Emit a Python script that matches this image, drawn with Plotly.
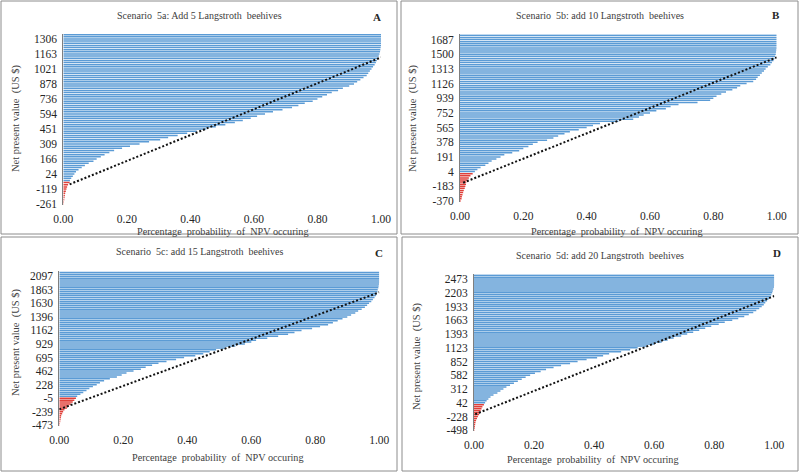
import plotly.graph_objects as go

W, H = 800, 473

# ---------------- data ----------------
titles = ["Scenario\u00a0 5a: Add 5 Langstroth\u00a0 beehives",
          "Scenario\u00a0 5b: add 10 Langstroth\u00a0 beehives",
          "Scenario\u00a0 5c: add 15 Langstroth\u00a0 beehives",
          "Scenario\u00a0 5d: add 20 Langstroth\u00a0 beehives"]
letters = ["A", "B", "C", "D"]

labels_a = [-261, -119, 24, 166, 309, 451, 594, 736, 878, 1021, 1163, 1306]
labels_b = [-370, -183, 4, 191, 378, 565, 752, 939, 1126, 1313, 1500, 1687]
labels_c = [-473, -239, -5, 228, 462, 695, 929, 1162, 1396, 1630, 1863, 2097]
labels_d = [-498, -228, 42, 312, 582, 852, 1123, 1393, 1663, 1933, 2203, 2473]

prob_a = [0.001, 0.002, 0.003, 0.004, 0.005, 0.006, 0.008, 0.010, 0.012, 0.015, 0.020,
          0.021, 0.025, 0.030, 0.035, 0.040, 0.048, 0.058, 0.068, 0.080, 0.095,
          0.105, 0.118, 0.130, 0.145, 0.160, 0.185, 0.210, 0.240, 0.270, 0.305,
          0.330, 0.360, 0.390, 0.420, 0.450, 0.480, 0.510, 0.540, 0.565, 0.590,
          0.610, 0.635, 0.660, 0.690, 0.720, 0.740, 0.760, 0.785, 0.800, 0.815,
          0.830, 0.845, 0.865, 0.880, 0.900, 0.915, 0.925, 0.935, 0.945, 0.955,
          0.960, 0.965, 0.970, 0.975, 0.980, 0.984, 0.987, 0.990, 0.993, 0.995,
          0.997, 0.998, 0.999, 1.0, 1.0, 1.0, 1.0, 1.0, 1.0]
prob_b = [0.002, 0.005, 0.006, 0.008, 0.010, 0.012, 0.015, 0.017, 0.019, 0.020,
          0.024, 0.028, 0.033, 0.040, 0.047, 0.055, 0.065, 0.080, 0.090, 0.100,
          0.115, 0.128, 0.140, 0.165, 0.187, 0.200, 0.216, 0.230, 0.245, 0.275,
          0.295, 0.310, 0.330, 0.347, 0.375, 0.400, 0.420, 0.442, 0.500, 0.547,
          0.565, 0.580, 0.600, 0.620, 0.650, 0.665, 0.690, 0.750, 0.790, 0.800,
          0.810, 0.825, 0.840, 0.860, 0.875, 0.885, 0.905, 0.926, 0.935, 0.940,
          0.947, 0.953, 0.960, 0.965, 0.972, 0.980, 0.985, 0.990, 0.993, 0.995,
          0.997, 0.998, 0.999, 1.0, 1.0, 1.0, 1.0, 1.0, 1.0, 1.0]
prob_c = [0.001, 0.002, 0.003, 0.004, 0.005, 0.006, 0.009, 0.012, 0.016, 0.024,
          0.030, 0.036, 0.042, 0.047, 0.052, 0.056, 0.066, 0.075, 0.085, 0.094,
          0.105, 0.117, 0.127, 0.140, 0.158, 0.180, 0.195, 0.210, 0.232, 0.255,
          0.270, 0.290, 0.310, 0.335, 0.365, 0.390, 0.425, 0.450, 0.470, 0.490,
          0.520, 0.550, 0.580, 0.600, 0.615, 0.650, 0.684, 0.715, 0.735, 0.757,
          0.790, 0.815, 0.840, 0.855, 0.870, 0.885, 0.900, 0.912, 0.925, 0.934,
          0.945, 0.955, 0.962, 0.968, 0.975, 0.980, 0.985, 0.990, 0.992, 0.994,
          0.995, 0.997, 0.998, 0.999, 1.0, 1.0, 1.0, 1.0, 1.0, 1.0]
prob_d = [0.001, 0.002, 0.003, 0.004, 0.005, 0.007, 0.010, 0.013, 0.017, 0.020,
          0.022, 0.025, 0.028, 0.033, 0.037, 0.042, 0.048, 0.055, 0.065, 0.078,
          0.088, 0.098, 0.108, 0.120, 0.133, 0.146, 0.159, 0.172, 0.187, 0.203,
          0.222, 0.240, 0.265, 0.290, 0.320, 0.345, 0.375, 0.410, 0.430, 0.450,
          0.490, 0.520, 0.545, 0.575, 0.600, 0.625, 0.645, 0.665, 0.690, 0.710,
          0.730, 0.750, 0.770, 0.790, 0.815, 0.835, 0.860, 0.880, 0.900, 0.915,
          0.930, 0.940, 0.950, 0.958, 0.965, 0.970, 0.976, 0.982, 0.988, 0.990,
          0.993, 0.995, 0.997, 0.999, 1.0, 1.0, 1.0, 1.0, 1.0, 1.0]

# number of (red) negative-NPV bars at the bottom of each panel
neg_counts = [11, 14, 15, 14]

# trend line end points (probability, bin index)
trend_a = ([0.02, 1.0], [9.2, 68.4])
trend_b = ([0.01, 1.0], [8.7, 68.5])
trend_c = ([0.0, 1.0], [8.3, 68.7])
trend_d = ([0.004, 1.0], [8.2, 68.4])

x_ticks = [0.0, 0.2, 0.4, 0.6, 0.8, 1.0]
label_step = 7

# ---------------- layout (pixel boxes) ----------------
panels = [
    dict(prob=prob_a, labels=labels_a, trend=trend_a,
         plot=(63.3, 381.0, 33.6, 205.1), border=(1, 397, 1, 234),
         title=(199, 15), letter=(377, 17), ytitle=(16, 118), xtitle=(223, 231)),
    dict(prob=prob_b, labels=labels_b, trend=trend_b,
         plot=(460.0, 776.7, 34.3, 202.0), border=(401, 798, 1, 234),
         title=(600, 15), letter=(776, 15), ytitle=(413, 118), xtitle=(617, 231)),
    dict(prob=prob_c, labels=labels_c, trend=trend_c,
         plot=(59.3, 379.3, 271.4, 426.3), border=(1, 397, 237, 471),
         title=(200, 251), letter=(379, 253), ytitle=(16, 342), xtitle=(218, 457)),
    dict(prob=prob_d, labels=labels_d, trend=trend_d,
         plot=(474.0, 774.3, 274.2, 431.3), border=(402, 798, 237, 471),
         title=(600, 255), letter=(777, 253), ytitle=(417, 356), xtitle=(593, 459)),
]

FONT = "Liberation Serif"
BLUE = "#5B9BD5"
RED = "#E0403A"
BAR_W = 1.5

fig = go.Figure()
shapes, annots = [], []
layout = dict(width=W, height=H, autosize=False, margin=dict(l=0, r=0, t=0, b=0, pad=0),
              paper_bgcolor="white", plot_bgcolor="white", showlegend=False,
              template="none")


def px(x):
    return x / W


def py(y):
    return 1 - y / H


def bar_segments(values, indices):
    xs, ys = [], []
    for i in indices:
        xs += [0, values[i], None]
        ys += [i, i, None]
    return xs, ys


for k, p in enumerate(panels):
    n = k + 1
    xa = "x" if n == 1 else f"x{n}"
    ya = "y" if n == 1 else f"y{n}"
    prob = p["prob"]
    neg = list(range(neg_counts[k]))
    pos = list(range(neg_counts[k], len(prob)))
    for ids, col in ((pos, BLUE), (neg, RED)):
        sx, sy = bar_segments(prob, ids)
        fig.add_trace(go.Scatter(x=sx, y=sy, mode="lines", line=dict(color=col, width=BAR_W),
                                 xaxis=xa, yaxis=ya, hoverinfo="skip", connectgaps=False))
    tx, ty = p["trend"]
    fig.add_trace(go.Scatter(x=tx, y=ty, mode="lines", line=dict(color="#111111", width=2, dash="2px,2px"),
                             xaxis=xa, yaxis=ya, hoverinfo="skip"))
    x0, x1, y0, y1 = p["plot"]
    xkey = "xaxis" if n == 1 else f"xaxis{n}"
    ykey = "yaxis" if n == 1 else f"yaxis{n}"
    layout[xkey] = dict(domain=[px(x0), px(x1)], range=[0, 1.0], anchor=ya, automargin=False,
                        tickvals=x_ticks, ticktext=[f"{v:.2f}" for v in x_ticks],
                        showgrid=False, zeroline=False, showline=False, ticks="", ticklen=0,
                        tickfont=dict(family=FONT, size=11.5, color="#262626"),
                        ticklabelstandoff=5, fixedrange=True)
    tick_idx = [i * label_step for i in range(len(p["labels"]))]
    layout[ykey] = dict(domain=[py(y1), py(y0)], range=[-0.5, len(prob) - 0.5], anchor=xa,
                        automargin=False,
                        tickvals=tick_idx, ticktext=[str(v) for v in p["labels"]],
                        showgrid=False, zeroline=False, showline=True, linecolor="#7f7f7f",
                        linewidth=1, ticks="", ticklen=0,
                        tickfont=dict(family=FONT, size=11.5, color="#262626"),
                        ticklabelstandoff=3, fixedrange=True)
    bx0, bx1, by0, by1 = p["border"]
    shapes.append(dict(type="rect", xref="paper", yref="paper",
                       x0=px(bx0), x1=px(bx1), y0=py(by1), y1=py(by0),
                       line=dict(color="#8c8c8c", width=1), fillcolor="rgba(0,0,0,0)"))
    annots.append(dict(text=titles[k], x=px(p["title"][0]), y=py(p["title"][1]),
                       xref="paper", yref="paper", showarrow=False,
                       xanchor="center", yanchor="middle",
                       font=dict(family=FONT, size=10, color="#404040")))
    annots.append(dict(text=f"<b>{letters[k]}</b>", x=px(p["letter"][0]), y=py(p["letter"][1]),
                       xref="paper", yref="paper", showarrow=False,
                       xanchor="center", yanchor="middle",
                       font=dict(family=FONT, size=11, color="#262626")))
    annots.append(dict(text="Net present value\u00a0 (US $)", x=px(p["ytitle"][0]), y=py(p["ytitle"][1]),
                       xref="paper", yref="paper", showarrow=False, textangle=-90,
                       xanchor="center", yanchor="middle",
                       font=dict(family=FONT, size=10.5, color="#404040")))
    annots.append(dict(text="Percentage\u00a0 probability\u00a0 of\u00a0 NPV occuring",
                       x=px(p["xtitle"][0]), y=py(p["xtitle"][1]),
                       xref="paper", yref="paper", showarrow=False,
                       xanchor="center", yanchor="middle",
                       font=dict(family=FONT, size=10.2, color="#404040")))

layout["shapes"] = shapes
layout["annotations"] = annots
fig.update_layout(**layout)
fig.write_html("out.html",
               config={"displayModeBar": False, "responsive": False},
               post_script="document.body.style.margin='0px';document.body.style.overflow='hidden';")
